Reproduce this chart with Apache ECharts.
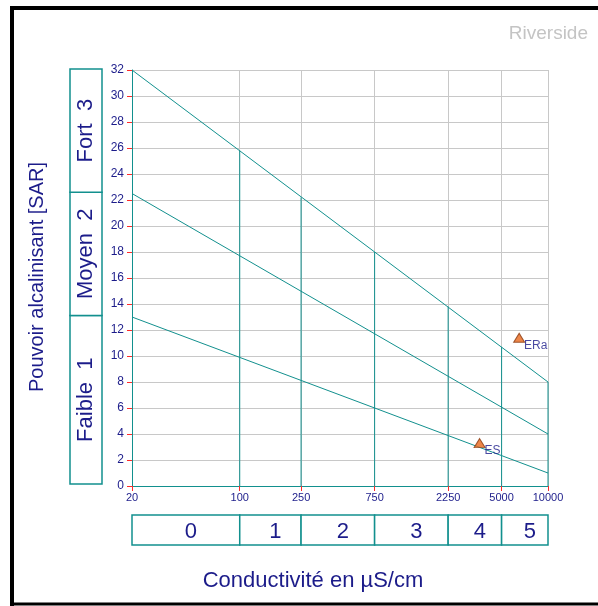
<!DOCTYPE html>
<html>
<head>
<meta charset="utf-8">
<script src="https://cdn.jsdelivr.net/npm/echarts@6/dist/echarts.min.js"></script>
<style>
  html, body { margin: 0; padding: 0; background: #ffffff; }
  #chart { width: 598px; height: 606px; }
</style>
</head>
<body>
<div id="chart"></div>
<script>
// Conductivity ticks (µS/cm, log scale)
const conductivityTicks = [20, 100, 250, 750, 2250, 5000, 10000];

// Class boundary lines, straight on the log axis
const boundaryX = [20, 10000];
const upperBoundary = [32, 8];
const middleBoundary = [22.5, 4];
const lowerBoundary = [13, 1];

// Vertical salinity dividers and where they meet the upper boundary
const dividerX = [100, 250, 750, 2250, 5000, 10000];
const dividerTop = [25.8, 22.2, 18.0, 13.8, 10.7, 8];

// Salinity classes along the bottom
const salinityEdges = [20, 100, 250, 750, 2250, 5000, 10000];
const salinityClasses = ['0', '1', '2', '3', '4', '5'];

// Alkalinity (SAR) classes along the left
const sodiumEdges = [0, 13, 22.5, 32];
const sodiumClasses = ['Faible  1', 'Moyen  2', 'Fort  3'];

// Samples
const sampleNames = ['ES', 'ERa'];
const sampleConductivity = [3600, 6500];
const sampleSar = [3.3, 11.4];

const TEAL = '#12908e';
const NAVY = '#1c1c8a';
const GRID_GREY = '#c8c8c8';
const TICK_RED = '#ff2a2a';
const FONT = '"Liberation Sans", Arial, sans-serif';

const chart = echarts.init(document.getElementById('chart'), null, { renderer: 'canvas' });

function pairs(xs, ys) { return xs.map((x, i) => [x, ys[i]]); }

function boundaryLine(values) {
  return {
    type: 'line', xAxisIndex: 0, yAxisIndex: 0,
    data: pairs(boundaryX, values),
    symbol: 'none', silent: true, z: 4,
    lineStyle: { color: TEAL, width: 1 }
  };
}

const option = {
  animation: false,
  backgroundColor: '#ffffff',
  textStyle: { fontFamily: FONT },
  title: {
    text: 'Riverside', right: 5, top: 19,
    textStyle: { color: '#c4c4c4', fontSize: 19, fontWeight: 'normal', fontFamily: FONT }
  },
  grid: [
    { left: 132, top: 70, width: 416, height: 416, outerBoundsMode: 'none' },
    { left: 132, top: 515, width: 416, height: 30, outerBoundsMode: 'none' },
    { left: 70, top: 69, width: 32, height: 415, outerBoundsMode: 'none' }
  ],
  xAxis: [
    {
      type: 'log', gridIndex: 0, logBase: 10, min: 20, max: 10000,
      axisLine: { show: true, lineStyle: { color: TEAL, width: 1 } },
      axisTick: { show: true, customValues: conductivityTicks, length: 5, lineStyle: { color: TICK_RED } },
      axisLabel: { customValues: conductivityTicks, color: NAVY, fontSize: 11, margin: 6, fontFamily: FONT,
                   formatter: v => String(Math.round(v)) },
      splitLine: { show: true, lineStyle: { color: GRID_GREY, width: 1 } },
      minorTick: { show: false }, minorSplitLine: { show: false }
    },
    { type: 'log', gridIndex: 1, logBase: 10, min: 20, max: 10000, show: false },
    { type: 'value', gridIndex: 2, min: 0, max: 1, show: false }
  ],
  yAxis: [
    {
      type: 'value', gridIndex: 0, min: 0, max: 32, interval: 2,
      axisLine: { show: true, lineStyle: { color: TEAL, width: 1 } },
      axisTick: { show: true, length: 5, lineStyle: { color: TICK_RED } },
      axisLabel: { color: NAVY, fontSize: 12, margin: 8, fontFamily: FONT },
      splitLine: { show: true, lineStyle: { color: GRID_GREY, width: 1 } }
    },
    { type: 'value', gridIndex: 1, min: 0, max: 1, show: false },
    { type: 'value', gridIndex: 2, min: 0, max: 32, show: false }
  ],
  graphic: [
    { type: 'line', shape: { x1: 12, y1: 6, x2: 12, y2: 606 }, style: { stroke: '#000', lineWidth: 4 } },
    { type: 'line', shape: { x1: 10, y1: 8, x2: 598, y2: 8 }, style: { stroke: '#000', lineWidth: 4 } },
    { type: 'line', shape: { x1: 10, y1: 604, x2: 598, y2: 604 }, style: { stroke: '#000', lineWidth: 3 } },
    {
      type: 'text', x: 37, y: 277, rotation: Math.PI / 2,
      style: { text: 'Pouvoir alcalinisant [SAR]', fill: NAVY, font: '20px ' + FONT, align: 'center', verticalAlign: 'middle' }
    },
    {
      type: 'text', x: 313, y: 581,
      style: { text: 'Conductivité en µS/cm', fill: NAVY, font: '22px ' + FONT, align: 'center', verticalAlign: 'middle' }
    }
  ],
  series: [
    boundaryLine(upperBoundary),
    boundaryLine(middleBoundary),
    boundaryLine(lowerBoundary),
    {
      type: 'custom', xAxisIndex: 0, yAxisIndex: 0, silent: true, z: 3,
      data: pairs(dividerX, dividerTop),
      encode: { x: 0, y: 1 },
      renderItem: function (params, api) {
        const bottom = api.coord([api.value(0), 0]);
        const top = api.coord([api.value(0), api.value(1)]);
        return {
          type: 'line',
          shape: { x1: bottom[0], y1: bottom[1], x2: top[0], y2: top[1] },
          style: { stroke: TEAL, lineWidth: 1 }
        };
      }
    },
    {
      type: 'scatter', xAxisIndex: 0, yAxisIndex: 0, z: 6,
      data: sampleNames.map((n, i) => ({ name: n, value: [sampleConductivity[i], sampleSar[i]] })),
      symbol: 'triangle', symbolSize: [11, 9],
      itemStyle: { color: '#e8681c', borderColor: '#8a3a10', borderWidth: 1 },
      label: { show: true, formatter: '{b}', position: [11, 7], color: NAVY, fontSize: 12, fontFamily: FONT }
    },
    {
      type: 'custom', xAxisIndex: 1, yAxisIndex: 1, silent: true,
      data: salinityClasses.map((c, i) => [salinityEdges[i], salinityEdges[i + 1]]),
      encode: { x: [0, 1] },
      renderItem: function (params, api) {
        const p0 = api.coord([api.value(0), 1]);
        const p1 = api.coord([api.value(1), 0]);
        return {
          type: 'group',
          children: [
            { type: 'rect', shape: { x: p0[0], y: p0[1], width: p1[0] - p0[0], height: p1[1] - p0[1] },
              style: { fill: '#ffffff', stroke: TEAL, lineWidth: 1.5 } },
            { type: 'text', x: (p0[0] + p1[0]) / 2 + 5, y: (p0[1] + p1[1]) / 2 + 2,
              style: { text: salinityClasses[params.dataIndex], fill: NAVY, font: '22px ' + FONT,
                       align: 'center', verticalAlign: 'middle' } }
          ]
        };
      }
    },
    {
      type: 'custom', xAxisIndex: 2, yAxisIndex: 2, silent: true,
      data: sodiumClasses.map((c, i) => [sodiumEdges[i], sodiumEdges[i + 1]]),
      encode: { y: [0, 1] },
      renderItem: function (params, api) {
        const p0 = api.coord([0, api.value(1)]);
        const p1 = api.coord([1, api.value(0)]);
        return {
          type: 'group',
          children: [
            { type: 'rect', shape: { x: p0[0], y: p0[1], width: p1[0] - p0[0], height: p1[1] - p0[1] },
              style: { fill: '#ffffff', stroke: TEAL, lineWidth: 1.5 } },
            { type: 'text', x: (p0[0] + p1[0]) / 2, y: (p0[1] + p1[1]) / 2, rotation: Math.PI / 2,
              style: { text: sodiumClasses[params.dataIndex], fill: NAVY, font: '22px ' + FONT,
                       align: 'center', verticalAlign: 'middle' } }
          ]
        };
      }
    }
  ]
};

chart.setOption(option);
</script>
</body>
</html>
